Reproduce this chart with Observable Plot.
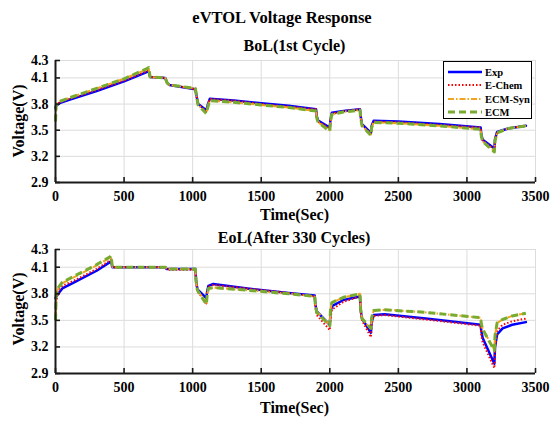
<!DOCTYPE html>
<html><head><meta charset="utf-8">
<script src="https://cdn.jsdelivr.net/npm/d3@7"></script>
<script src="https://cdn.jsdelivr.net/npm/@observablehq/plot@0.6"></script>
<style>
body{margin:0;background:#fff;}
#wrap{position:relative;width:557px;height:427px;font-family:"Liberation Serif","Times New Roman",serif;font-weight:bold;color:#000;}
#wrap svg{position:absolute;left:0;}
#wrap svg text{font-family:"Liberation Serif","Times New Roman",serif;font-weight:bold;}
.t{position:absolute;white-space:nowrap;transform:translate(-50%,-50%);line-height:1;}
.leg{position:absolute;left:443px;top:61px;width:87px;height:56px;border:1px solid #000;background:#fff;font-size:10.5px;}
.row{position:absolute;left:3px;height:12px;display:flex;align-items:center;}
.row span{margin-left:2px;}
</style></head><body><div id="wrap"></div><script>
const seriesNames = ["Exp", "E-Chem", "ECM-Syn", "ECM"];
const seriesColors = ["#0000FF", "#FF0000", "#F2A31B", "#77AC30"];
const seriesDash = [null, "1.5,2", "6,2,1.5,2", "7,4"];
const seriesWidth = [2.5, 2, 2, 3];

const xTicks = [0, 500, 1000, 1500, 2000, 2500, 3000, 3500];
const yTicks = [2.9, 3.2, 3.5, 3.8, 4.1, 4.3];

const bolTime = [0,5,30,100,300,500,670,680,690,800,815,830,1020,1030,1040,1100,1110,1125,1300,1500,1700,1900,1905,1915,2000,2005,2015,2100,2220,2225,2235,2300,2305,2320,2500,2800,3100,3105,3115,3200,3205,3220,3300,3430];
const bolExp = [3.76,3.78,3.81,3.85,3.95,4.06,4.17,4.18,4.11,4.10,4.04,4.02,3.97,3.88,3.80,3.73,3.79,3.86,3.84,3.81,3.78,3.74,3.66,3.61,3.53,3.62,3.70,3.72,3.74,3.66,3.57,3.47,3.55,3.61,3.60,3.57,3.53,3.45,3.39,3.29,3.40,3.48,3.52,3.55];
const bolEChem = [3.74,3.79,3.82,3.86,3.96,4.07,4.18,4.19,4.11,4.10,4.04,4.02,3.97,3.88,3.80,3.72,3.78,3.86,3.84,3.80,3.77,3.74,3.65,3.60,3.52,3.61,3.69,3.72,3.74,3.65,3.56,3.46,3.54,3.60,3.59,3.56,3.53,3.44,3.38,3.28,3.39,3.47,3.52,3.55];
const bolEcmSyn = [3.62,3.79,3.83,3.87,3.98,4.09,4.20,4.21,4.11,4.10,4.04,4.02,3.98,3.87,3.79,3.70,3.76,3.84,3.82,3.79,3.76,3.72,3.64,3.59,3.50,3.60,3.68,3.71,3.73,3.64,3.55,3.45,3.53,3.59,3.58,3.55,3.51,3.43,3.37,3.26,3.38,3.47,3.52,3.55];
const bolEcm = [3.60,3.79,3.83,3.87,3.98,4.09,4.21,4.22,4.11,4.10,4.04,4.02,3.98,3.87,3.79,3.69,3.76,3.84,3.82,3.79,3.76,3.72,3.64,3.59,3.49,3.60,3.68,3.71,3.73,3.64,3.55,3.44,3.53,3.59,3.58,3.55,3.51,3.43,3.37,3.25,3.38,3.47,3.52,3.55];

const eolTime = [0,5,20,50,150,300,400,405,415,800,810,820,1020,1025,1035,1100,1105,1115,1150,1400,1700,1890,1895,1905,2000,2005,2015,2100,2220,2225,2235,2300,2305,2320,2400,2700,3100,3105,3115,3200,3205,3220,3260,3330,3430];
const eolExp = [3.75,3.77,3.80,3.86,3.94,4.06,4.16,4.17,4.10,4.10,4.08,4.08,4.08,3.95,3.85,3.75,3.82,3.89,3.91,3.86,3.81,3.78,3.68,3.60,3.45,3.58,3.66,3.73,3.77,3.62,3.52,3.36,3.48,3.56,3.57,3.52,3.45,3.38,3.30,3.01,3.20,3.34,3.41,3.45,3.48];
const eolEChem = [3.50,3.70,3.84,3.89,3.96,4.08,4.18,4.19,4.10,4.10,4.08,4.07,4.07,3.93,3.83,3.69,3.80,3.88,3.90,3.86,3.81,3.77,3.65,3.56,3.39,3.52,3.62,3.71,3.77,3.60,3.50,3.31,3.45,3.55,3.56,3.51,3.44,3.33,3.25,2.96,3.18,3.38,3.45,3.49,3.52];
const eolEcmSyn = [3.55,3.78,3.86,3.92,4.00,4.12,4.21,4.22,4.10,4.10,4.09,4.08,4.08,3.94,3.84,3.70,3.78,3.86,3.87,3.84,3.80,3.77,3.67,3.60,3.45,3.62,3.70,3.76,3.80,3.63,3.52,3.40,3.52,3.61,3.62,3.59,3.53,3.47,3.40,3.17,3.33,3.47,3.51,3.55,3.58];
const eolEcm = [3.50,3.80,3.87,3.93,4.01,4.13,4.22,4.23,4.10,4.10,4.09,4.08,4.08,3.94,3.84,3.68,3.77,3.86,3.87,3.84,3.80,3.77,3.67,3.59,3.44,3.62,3.70,3.76,3.80,3.63,3.52,3.41,3.53,3.61,3.62,3.59,3.53,3.46,3.40,3.16,3.33,3.47,3.51,3.55,3.58];

const wrap = document.getElementById("wrap");
const W = 557, ML = 55, MR = 22, MB = 25;

function panel(time, seriesVals, top, areaTop, areaBottom) {
  const marginTop = areaTop - top;
  const height = areaBottom - top + MB;
  const areaH = areaBottom - areaTop;
  const areaW = W - ML - MR;
  const lines = seriesVals.map((vals, i) => Plot.line(time.map((t, j) => ({t, v: vals[j]})), {
    x: "t", y: "v", stroke: seriesColors[i], strokeWidth: seriesWidth[i],
    strokeDasharray: seriesDash[i] || undefined, strokeLinejoin: "round", strokeLinecap: i === 0 ? "round" : "butt"
  }));
  const svg = Plot.plot({
    width: W, height, marginTop, marginBottom: MB, marginLeft: ML, marginRight: MR,
    style: "background: transparent; font-family: 'Liberation Serif','Times New Roman',serif; font-size: 14px; font-weight: bold; color: #000; overflow: visible;",
    x: {domain: [0, 3500]},
    y: {domain: [2.9, 4.3]},
    marks: [
      Plot.gridX(xTicks, {stroke: "#dcdcdc", strokeOpacity: 1, strokeWidth: 1}),
      Plot.gridY(yTicks, {stroke: "#dcdcdc", strokeOpacity: 1, strokeWidth: 1}),
      ...lines,
      Plot.ruleX([xTicks[0]], {stroke: "#1a1a1a", strokeWidth: 2}),
      Plot.ruleY([yTicks[0]], {stroke: "#1a1a1a", strokeWidth: 2}),
      Plot.tickX(xTicks, {x: d => d, stroke: "#1a1a1a", strokeWidth: 1.6, insetTop: areaH - 5}),
      Plot.tickY(yTicks, {y: d => d, stroke: "#1a1a1a", strokeWidth: 1.6, insetRight: areaW - 5}),
      Plot.axisX(xTicks, {tickSize: 0, tickPadding: 9, label: null, tickFormat: d => String(d), fill: "#000"}),
      Plot.axisY(yTicks, {tickSize: 0, tickPadding: 7, label: null, tickFormat: d => d.toFixed(1), fill: "#000"})
    ]
  });
  svg.style.top = top + "px";
  wrap.appendChild(svg);
}

panel(bolTime, [bolExp, bolEChem, bolEcmSyn, bolEcm], 0, 60, 182);
panel(eolTime, [eolExp, eolEChem, eolEcmSyn, eolEcm], 215, 249, 373);

function label(text, x, y, size, rotate) {
  const d = document.createElement("div");
  d.className = "t";
  d.textContent = text;
  d.style.left = x + "px";
  d.style.top = y + "px";
  d.style.fontSize = size + "px";
  if (rotate) d.style.transform = "translate(-50%,-50%) rotate(-90deg)";
  wrap.appendChild(d);
}
label("eVTOL Voltage Response", 282, 18, 16.5);
label("BoL(1st Cycle)", 294.5, 46, 16);
label("Time(Sec)", 294.5, 215, 16);
label("Voltage(V)", 18.5, 121, 16, true);
label("EoL(After 330 Cycles)", 294, 238, 16);
label("Time(Sec)", 294.5, 408, 16);
label("Voltage(V)", 18.5, 309, 16, true);

const leg = document.createElement("div");
leg.className = "leg";
const rowY = [4, 17, 31, 44];
seriesNames.forEach((name, i) => {
  const r = document.createElement("div");
  r.className = "row";
  r.style.top = rowY[i] + "px";
  const s = d3.create("svg").attr("width", 36).attr("height", 12).style("position", "static");
  s.append("line").attr("x1", 1).attr("x2", 35).attr("y1", 6).attr("y2", 6)
    .attr("stroke", seriesColors[i]).attr("stroke-width", seriesWidth[i])
    .attr("stroke-dasharray", seriesDash[i]);
  r.appendChild(s.node());
  const sp = document.createElement("span");
  sp.textContent = name;
  r.appendChild(sp);
  leg.appendChild(r);
});
wrap.appendChild(leg);
</script></body></html>
